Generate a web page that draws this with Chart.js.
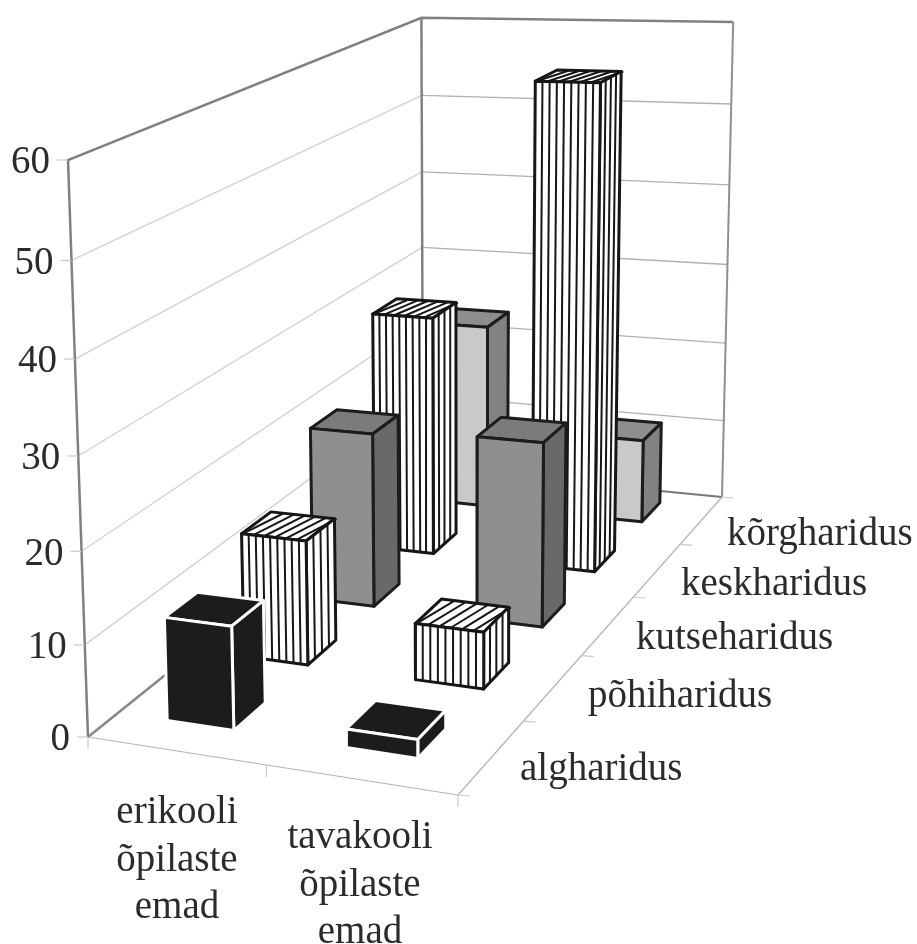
<!DOCTYPE html>
<html>
<head>
<meta charset="utf-8">
<title>Emade haridus</title>
<script src="https://cdn.jsdelivr.net/npm/chart.js@4"></script>
<style>
    html, body { margin: 0; padding: 0; background: #fff; }
    canvas { display: block; filter: blur(0.4px); }
</style>
</head>
<body>
<canvas id="eduChart" width="917" height="944"></canvas>
<script>
const schools = [['erikooli', 'õpilaste', 'emad'], ['tavakooli', 'õpilaste', 'emad']];
const levels = ['algharidus', 'põhiharidus', 'kutseharidus', 'keskharidus', 'kõrgharidus'];
const yTicks = [0, 10, 20, 30, 40, 50, 60];

// one value per level, front row first
const erikooli = [11.3, 14.1, 20.5, 29.2, 23.3];
const tavakooli = [2, 6.3, 21.3, 57.7, 10.4];

// wall and floor corners as they sit on the page
const floorA = [88, 737], floorB = [458, 795], floorC = [722, 497], floorD = [423, 468];
const topA = [68, 160];
const vanish = [462, 11531];
const yMax = 60;

const barHalfU = 0.095, barHalfV = 0.041;
const colOffset = 0.478, rowOffset = 0.555;
const rowStyle = [
    { front: '#1c1c1c', side: '#1c1c1c', top: '#1c1c1c', line: '#ffffff' },
    { front: '#ffffff', side: '#ffffff', top: '#ffffff', line: '#161616', stripes: true },
    { front: '#8f8f91', side: '#69696b', top: '#7b7b7d', line: '#1c1c1c' },
    { front: '#ffffff', side: '#ffffff', top: '#ffffff', line: '#161616', stripes: true },
    { front: '#c9c9c9', side: '#828284', top: '#8e8e90', line: '#1c1c1c' }
];

// unit square to floor quad
function floorMatrix() {
    const [x0, y0] = floorA, [x1, y1] = floorB, [x2, y2] = floorC, [x3, y3] = floorD;
    const dx1 = x1 - x2, dx2 = x3 - x2, sx = x0 - x1 + x2 - x3;
    const dy1 = y1 - y2, dy2 = y3 - y2, sy = y0 - y1 + y2 - y3;
    const det = dx1 * dy2 - dx2 * dy1;
    const g = (sx * dy2 - dx2 * sy) / det;
    const h = (dx1 * sy - sx * dy1) / det;
    return { pu: [x1 - x0 + g * x1, y1 - y0 + g * y1, g], pv: [x3 - x0 + h * x3, y3 - y0 + h * y3, h], p0: [x0, y0, 1] };
}
const m = floorMatrix();
const hScale = (floorA[1] - topA[1]) / (yMax * (topA[1] - vanish[1]));

function project(u, v, val) {
    const k = hScale * val;
    const px = m.p0[0] + u * m.pu[0] + v * m.pv[0] + k * vanish[0];
    const py = m.p0[1] + u * m.pu[1] + v * m.pv[1] + k * vanish[1];
    const pw = m.p0[2] + u * m.pu[2] + v * m.pv[2] + k;
    return { x: px / pw, y: py / pw };
}

const datasets = [];

function addLine(points, color, width) {
    datasets.push({ data: points, borderColor: color, borderWidth: width, showLine: true, fill: false, pointRadius: 0, tension: 0 });
}

function addFace(points, fillColor, lineColor, width) {
    datasets.push({
        data: points.concat([points[0], points[1]]),
        backgroundColor: fillColor, borderColor: lineColor, borderWidth: width,
        showLine: true, fill: 'shape', pointRadius: 0, tension: 0, borderJoinStyle: 'round'
    });
}

// walls and floor
yTicks.forEach(t => {
    if (t === 0 || t === yMax) return;
    addLine([project(0, 0, t), project(0, 1, t)], '#d2d2d2', 1.4);
    addLine([project(0, 1, t), project(1, 1, t)], '#b0b0b0', 1.3);
});
addLine([project(0, 1, 0), project(1, 1, 0)], '#777777', 2);
addLine([project(0, 0, 0), project(0, 1, 0)], '#888888', 2.5);
addLine([project(0, 0, 0), project(1, 0, 0)], '#b4b4b4', 1.2);
addLine([project(1, 0, 0), project(1, 1, 0)], '#b4b4b4', 1.2);
addLine([project(0, 1, 0), project(0, 1, yMax)], '#808080', 2.5);
addLine([project(1, 1, 0), project(1, 1, yMax)], '#909090', 2);
addLine([project(0, 0, 0), project(0, 0, yMax), project(0, 1, yMax), project(1, 1, yMax)], '#808080', 2.5);

// axis tick marks
yTicks.forEach(t => {
    const p = project(0, 0, t);
    addLine([{ x: p.x - 11, y: p.y }, p], '#c8c8c8', 1.2);
});
[0, 0.5, 1].forEach(u => {
    const p = project(u, 0, 0);
    addLine([p, { x: p.x, y: p.y + 12 }], '#c8c8c8', 1.2);
});
levels.concat(['']).forEach((_, i) => {
    const p = project(1, i / levels.length, 0);
    addLine([p, { x: p.x + 12, y: p.y + 1 }], '#c8c8c8', 1.2);
});

function addStripes(u0, u1, v0, v1, val, count, color, width) {
    const pts = [];
    for (let i = 1; i < count; i++) {
        const f = i / count;
        const u = u0 + (u1 - u0) * f, v = v0 + (v1 - v0) * f;
        pts.push(project(u, v, 0), project(u, v, val), { x: null, y: null });
    }
    addLine(pts, color, width);
}

function addTopStripes(u0, u1, v0, v1, val, count, color, width) {
    const pts = [];
    const step = (u1 - u0) / count;
    for (let i = 0; i < count; i++) {
        pts.push(project(u0 + step * i + step * 0.1, v0, val), project(u0 + step * i + step * 1.2, v1, val), { x: null, y: null });
    }
    addLine(pts, color, width);
}

function addBar(col, row, val) {
    const style = rowStyle[row];
    const uc = (col + colOffset) / schools.length, vc = (row + rowOffset) / levels.length;
    const u0 = uc - barHalfU, u1 = uc + barHalfU, v0 = vc - barHalfV, v1 = vc + barHalfV;
    const lw = 3;
    addFace([project(u0, v0, val), project(u1, v0, val), project(u1, v1, val), project(u0, v1, val)], style.top, style.line, lw);
    if (style.stripes) addTopStripes(u0, u1, v0, v1, val, 6, style.line, 2);
    addFace([project(u1, v0, 0), project(u1, v1, 0), project(u1, v1, val), project(u1, v0, val)], style.side, style.line, lw);
    if (style.stripes) addStripes(u1, u1, v0, v1, val, 4, style.line, 2);
    addFace([project(u0, v0, 0), project(u1, v0, 0), project(u1, v0, val), project(u0, v0, val)], style.front, style.line, lw);
    if (style.stripes) addStripes(u0, u1, v0, v0, val, 9, style.line, 2);
}

// back row first so the nearer bars cover it
for (let row = levels.length - 1; row >= 0; row--) {
    addBar(0, row, erikooli[row]);
    addBar(1, row, tavakooli[row]);
}

const levelLabelPos = [[520, 770], [588, 697], [636, 639], [681, 585], [727, 535]];
const schoolLabelPos = [[177, 813], [360, 838]];

const textPlugin = {
    id: 'axisText',
    afterDraw(chart) {
        const ctx = chart.ctx;
        ctx.save();
        ctx.font = '39px "Liberation Serif"';
        ctx.fillStyle = '#2b2b2b';
        ctx.textBaseline = 'middle';
        ctx.textAlign = 'right';
        yTicks.forEach(t => {
            const p = project(0, 0, t);
            ctx.fillText(String(t), p.x - 18, p.y + 3);
        });
        ctx.textAlign = 'left';
        levels.forEach((name, i) => ctx.fillText(name, levelLabelPos[i][0], levelLabelPos[i][1]));
        ctx.textAlign = 'center';
        schools.forEach((lines, i) => {
            lines.forEach((line, j) => ctx.fillText(line, schoolLabelPos[i][0], schoolLabelPos[i][1] + j * 47.5));
        });
        ctx.restore();
    }
};

new Chart(document.getElementById('eduChart').getContext('2d'), {
    type: 'scatter',
    data: { datasets: datasets.reverse() },
    options: {
        responsive: false,
        animation: false,
        layout: { padding: 0 },
        plugins: { legend: { display: false }, tooltip: { enabled: false } },
        scales: {
            x: { type: 'linear', min: 0, max: 917, display: false },
            y: { type: 'linear', min: 0, max: 944, reverse: true, display: false }
        }
    },
    plugins: [textPlugin]
});
</script>
</body>
</html>
